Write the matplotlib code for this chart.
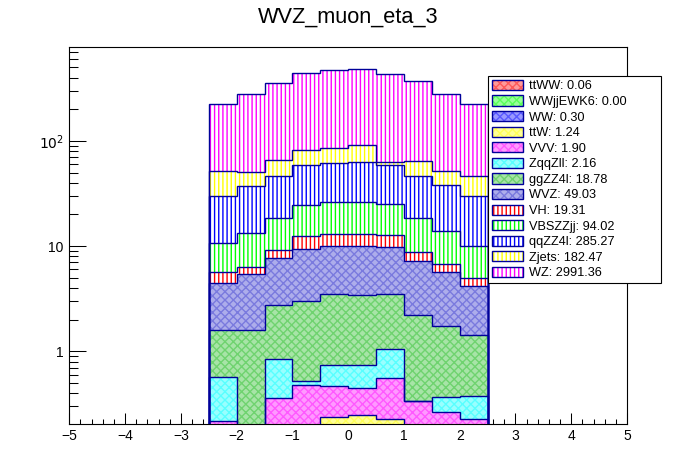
import numpy as np
import matplotlib
matplotlib.use("Agg")
import matplotlib.pyplot as plt
from matplotlib.patches import Patch
from matplotlib.legend_handler import HandlerTuple
from matplotlib.ticker import MultipleLocator, FixedLocator, FixedFormatter, LogLocator, NullFormatter

plt.rcParams["font.family"] = ["Liberation Sans", "DejaVu Sans"]
plt.rcParams["hatch.linewidth"] = 1.0

# ============ data ============
bin_edges = [-2.5, -2.0, -1.5, -1.0, -0.5, 0.0, 0.5, 1.0, 1.5, 2.0, 2.5]

# stack order: first entry at the bottom
ttWW     = [0.004, 0.005, 0.006, 0.007, 0.007, 0.007, 0.007, 0.006, 0.005, 0.006]
WWjjEWK6 = [0.0, 0.0, 0.0, 0.0, 0.0, 0.0, 0.0, 0.0, 0.0, 0.0]
WW       = [0.02, 0.03, 0.03, 0.04, 0.03, 0.04, 0.03, 0.03, 0.03, 0.02]
ttW      = [0.06, 0.09, 0.11, 0.15, 0.199, 0.20, 0.189, 0.14, 0.06, 0.04]
VVV      = [0.132, 0.03, 0.212, 0.278, 0.229, 0.198, 0.328, 0.159, 0.169, 0.160]
ZqqZll   = [0.35, 0.02, 0.48, 0.044, 0.27, 0.29, 0.49, 0.0, 0.10, 0.15]
ggZZ4l   = [1.01, 1.405, 1.89, 2.46, 2.74, 2.66, 2.44, 1.865, 1.36, 1.05]
WVZ      = [2.84, 3.81, 4.91, 6.33, 6.46, 6.54, 6.24, 5.0, 3.9, 2.75]
VH       = [1.21, 0.89, 1.46, 3.3, 2.96, 2.96, 2.9, 1.51, 1.07, 0.76]
VBSZZjj  = [4.97, 6.92, 9.6, 11.8, 13.1, 13.1, 12.3, 9.6, 7.1, 5.07]
qqZZ4l   = [19.2, 23.7, 28.2, 34.0, 35.0, 36.4, 33.5, 27.6, 24.7, 19.8]
Zjets    = [21.4, 13.2, 18.7, 24.4, 23.7, 30.0, 4.0, 18.2, 12.7, 16.1]
WZ       = [175.3, 231.7, 293.1, 363.6, 392.1, 395.1, 374.2, 310.6, 230.6, 177.3]

names  = ["ttWW", "WWjjEWK6", "WW", "ttW", "VVV", "ZqqZll", "ggZZ4l",
          "WVZ", "VH", "VBSZZjj", "qqZZ4l", "Zjets", "WZ"]
series = [ttWW, WWjjEWK6, WW, ttW, VVV, ZqqZll, ggZZ4l,
          WVZ, VH, VBSZZjj, qqZZ4l, Zjets, WZ]
totals = [0.06, 0.00, 0.30, 1.24, 1.90, 2.16, 18.78, 49.03, 19.31, 94.02,
          285.27, 182.47, 2991.36]

# ============ styles ============
colors = ["#ff0000", "#00ff00", "#0000ff", "#ffff00", "#ff00ff", "#00ffff",
          "#22bb22", "#3333cc", "#ff0000", "#00ff00", "#0000ff", "#ffff00", "#ff00ff"]
checker = [True] * 8 + [False] * 5
NAVY = "#00009a"


def blend(c, f=0.5):
    rgb = np.array(matplotlib.colors.to_rgb(c))
    return tuple(rgb * f + (1 - f))


def fill_style(c, chk):
    if chk:
        # ROOT fine checker pattern -> light colour with a faint cross hatch
        return dict(facecolor=blend(c, 0.4), edgecolor=blend(c, 0.65), hatch="xxxx")
    return dict(facecolor="white", edgecolor=c, hatch="||||")


# ============ plot ============
fig = plt.figure(figsize=(6.96, 4.72), dpi=100)
ax = fig.add_axes([0.0996, 0.1023, 0.8013, 0.7975])
ax.set_yscale("log")

edges = np.array(bin_edges)
base = np.full(len(edges) - 1, 1e-3)
tops = []
for vals, c, chk in zip(series, colors, checker):
    top = base + np.array(vals)
    ax.stairs(top, edges, baseline=base, fill=True, linewidth=0, zorder=2,
              **fill_style(c, chk))
    tops.append(top)
    base = top

for top in tops[::-1]:
    ax.stairs(top, edges, baseline=1e-3, fill=False, color=NAVY,
              linewidth=1.0, zorder=3)

ax.set_xlim(-5, 5)
ax.set_ylim(0.205, 776)

ax.xaxis.set_major_locator(MultipleLocator(1))
ax.xaxis.set_minor_locator(MultipleLocator(0.2))
ax.yaxis.set_major_locator(FixedLocator([1, 10, 100]))
ax.yaxis.set_major_formatter(FixedFormatter(["1", "10", r"$10^{2}$"]))
ax.yaxis.set_minor_locator(LogLocator(base=10, subs=np.arange(2, 10)))
ax.yaxis.set_minor_formatter(NullFormatter())

ax.tick_params(axis="both", which="both", direction="in", width=0.75,
               labelsize=10, top=False, right=False)
ax.tick_params(axis="x", which="major", length=8, pad=4)
ax.tick_params(axis="x", which="minor", length=3.6)
ax.tick_params(axis="y", which="major", length=12.2, pad=4)
ax.tick_params(axis="y", which="minor", length=6.5)
for s in ax.spines.values():
    s.set_linewidth(0.8)

fig.text(0.5, 0.952, "WVZ_muon_eta_3", ha="center", va="baseline", fontsize=15.7)

# legend (ROOT-like box, partly outside the frame)
handles = []
for c, chk in zip(colors, checker):
    h_fill = Patch(linewidth=0, **fill_style(c, chk))
    h_edge = Patch(facecolor="none", edgecolor=NAVY, linewidth=1.0)
    handles.append((h_fill, h_edge))
labels = [f"{n}: {t:.2f}" for n, t in zip(names, totals)]
leg = fig.legend(handles, labels, handler_map={tuple: HandlerTuple(ndivide=1, pad=0)},
                 loc="upper left", bbox_to_anchor=(0.7016, 0.3998, 0.2481, 0.4392),
                 mode="expand", fontsize=9.2, frameon=True, fancybox=False,
                 framealpha=1, edgecolor="black", borderpad=0.3, labelspacing=0.24,
                 handlelength=2.4, handleheight=0.85, handletextpad=0.45,
                 borderaxespad=0)
leg.get_frame().set_linewidth(0.8)
leg.set_zorder(10)

fig.savefig("out.png", dpi=100, facecolor="white")
